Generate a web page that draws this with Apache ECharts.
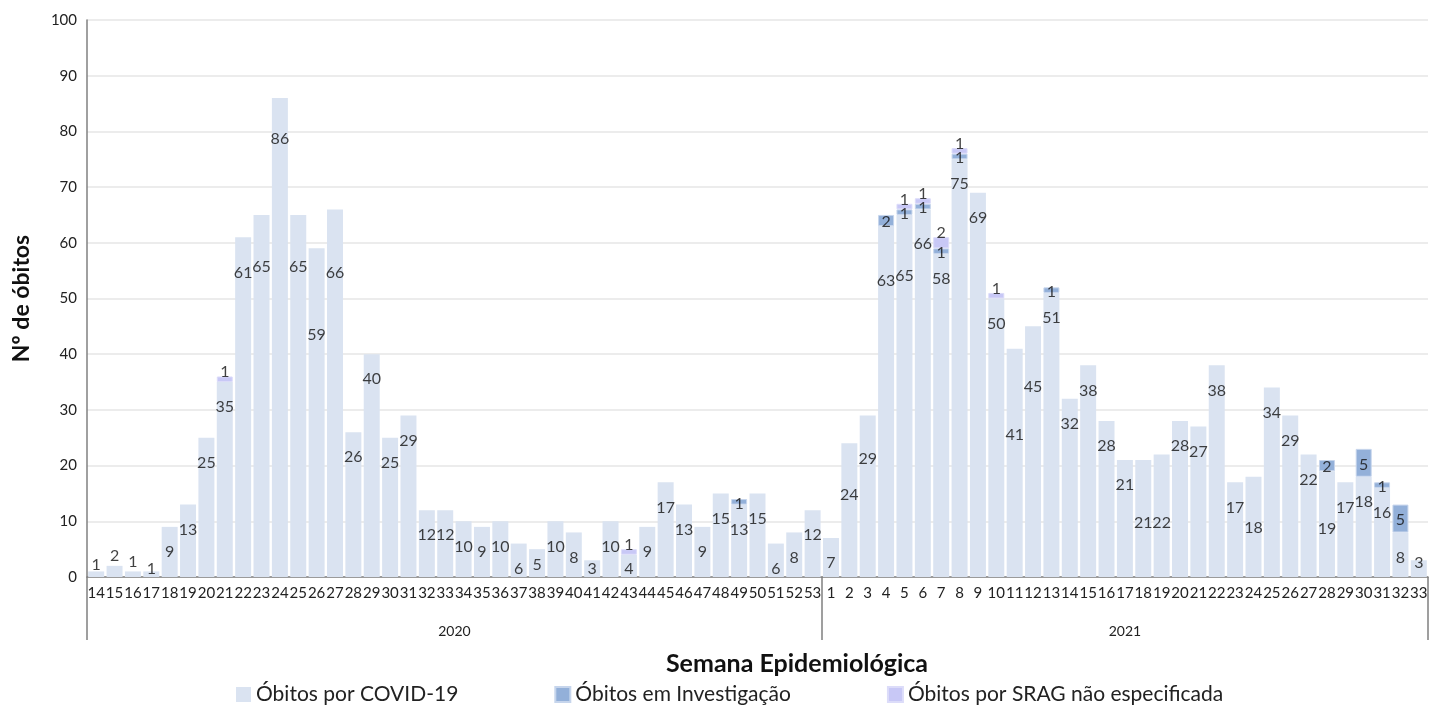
<!DOCTYPE html>
<html>
<head>
<meta charset="utf-8">
<title>Óbitos por semana epidemiológica</title>
<script src="https://cdn.jsdelivr.net/npm/echarts@6.0.0/dist/echarts.min.js"></script>
<style>
  html, body { margin: 0; padding: 0; background: #fff; }
  #main { width: 1437px; height: 709px; }
</style>
</head>
<body>
<div id="main"></div>
<script>
// categories
const years = ["2020", "2021"];
const weeks2020 = [14, 15, 16, 17, 18, 19, 20, 21, 22, 23, 24, 25, 26, 27, 28, 29, 30, 31, 32, 33,
  34, 35, 36, 37, 38, 39, 40, 41, 42, 43, 44, 45, 46, 47, 48, 49, 50, 51, 52, 53];
const weeks2021 = [1, 2, 3, 4, 5, 6, 7, 8, 9, 10, 11, 12, 13, 14, 15, 16, 17, 18, 19, 20,
  21, 22, 23, 24, 25, 26, 27, 28, 29, 30, 31, 32, 33];

// series values
const covid2020 = [1, 2, 1, 1, 9, 13, 25, 35, 61, 65, 86, 65, 59, 66, 26, 40, 25, 29, 12, 12,
  10, 9, 10, 6, 5, 10, 8, 3, 10, 4, 9, 17, 13, 9, 15, 13, 15, 6, 8, 12];
const covid2021 = [7, 24, 29, 63, 65, 66, 58, 75, 69, 50, 41, 45, 51, 32, 38, 28, 21, 21, 22, 28,
  27, 38, 17, 18, 34, 29, 22, 19, 17, 18, 16, 8, 3];
const inv2020 = [0, 0, 0, 0, 0, 0, 0, 0, 0, 0, 0, 0, 0, 0, 0, 0, 0, 0, 0, 0,
  0, 0, 0, 0, 0, 0, 0, 0, 0, 0, 0, 0, 0, 0, 0, 1, 0, 0, 0, 0];
const inv2021 = [0, 0, 0, 2, 1, 1, 1, 1, 0, 0, 0, 0, 1, 0, 0, 0, 0, 0, 0, 0,
  0, 0, 0, 0, 0, 0, 0, 2, 0, 5, 1, 5, 0];
const srag2020 = [0, 0, 0, 0, 0, 0, 0, 1, 0, 0, 0, 0, 0, 0, 0, 0, 0, 0, 0, 0,
  0, 0, 0, 0, 0, 0, 0, 0, 0, 1, 0, 0, 0, 0, 0, 0, 0, 0, 0, 0];
const srag2021 = [0, 0, 0, 0, 1, 1, 2, 1, 0, 1, 0, 0, 0, 0, 0, 0, 0, 0, 0, 0,
  0, 0, 0, 0, 0, 0, 0, 0, 0, 0, 0, 0, 0];

// label placement: how far under the bar top the COVID label sits (axis units),
// with the labels that were moved by hand in the original
const labelDrop = 4.5;
const labelDropFix2020 = { 14: -1.2, 15: -1.8, 16: -1.8, 22: 6.4, 23: 9.3, 24: 7.4, 25: 9.3, 26: 15.5, 27: 11.4, 38: 2.9 };
const labelDropFix2021 = { 2: 9.3, 3: 7.7, 4: 9.9, 5: 11, 6: 6.1, 11: 15.4, 12: 10.8, 18: 11.3, 19: 12.3, 24: 9.2, 28: 10.4, 33: 0.5 };

const font = "Lato";
const weeks = weeks2020.concat(weeks2021).map(String);
const covid = covid2020.concat(covid2021);
const inv = inv2020.concat(inv2021);
const srag = srag2020.concat(srag2021);
const dropFix = weeks2020.map((w) => labelDropFix2020[w]).concat(weeks2021.map((w) => labelDropFix2021[w]));

// year blocks on the week axis
const yearEdges = [0, weeks2020.length, weeks2020.length + weeks2021.length];
const yearMids = [(yearEdges[0] + yearEdges[1]) / 2, (yearEdges[1] + yearEdges[2]) / 2];

let labelPoints = [];
covid.forEach(function (v, i) {
  let d = dropFix[i] !== undefined ? dropFix[i] : labelDrop;
  labelPoints.push({ value: [i, Math.max(v - d, 1.4)], txt: v });
  if (inv[i]) labelPoints.push({ value: [i, v + inv[i] / 2 - 0.3], txt: inv[i] });
  if (srag[i]) labelPoints.push({ value: [i, v + inv[i] + srag[i] + 0.8], txt: srag[i] });
});

let option = {
  animation: false,
  textStyle: { fontFamily: font },
  grid: {
    left: 87,
    right: 9,
    top: 20,
    bottom: 132,
    containLabel: false,
    outerBoundsMode: "none",
  },
  title: {
    text: "Semana Epidemiológica",
    left: 792,
    top: 646,
    textAlign: "center",
    textStyle: { fontFamily: font, fontSize: 25, fontWeight: "bold", color: "#111" },
  },
  legend: {
    data: ["Óbitos por COVID-19", "Óbitos em Investigação", "Óbitos por SRAG não especificada"],
    left: 231,
    top: 679,
    icon: "rect",
    itemWidth: 15,
    itemHeight: 15,
    itemGap: 96,
    textStyle: { fontFamily: font, fontSize: 21, color: "#222" },
  },
  xAxis: [
    {
      type: "category",
      data: weeks,
      axisLine: { lineStyle: { color: "#808080", width: 1.5 } },
      axisTick: { show: false },
      axisLabel: { interval: 0, margin: 9, fontSize: 15, color: "#222", fontFamily: font },
    },
    {
      type: "value",
      min: 0,
      max: yearEdges[2],
      position: "bottom",
      axisLine: { show: false },
      splitLine: { show: false },
      axisTick: {
        show: true,
        customValues: yearEdges,
        length: 63,
        lineStyle: { color: "#808080", width: 1.5 },
      },
      axisLabel: {
        customValues: yearMids,
        formatter: (v) => years[yearMids.indexOf(v)],
        margin: 47,
        fontSize: 14,
        color: "#222",
        fontFamily: font,
      },
    },
  ],
  yAxis: {
    type: "value",
    min: 0,
    max: 100,
    interval: 10,
    name: "Nº de óbitos",
    nameLocation: "middle",
    nameGap: 54,
    nameTextStyle: { fontFamily: font, fontSize: 23, fontWeight: "bold", color: "#111" },
    axisLine: { show: true, lineStyle: { color: "#808080", width: 1.5 } },
    axisTick: { show: false },
    axisLabel: { margin: 10, fontSize: 15, color: "#222", fontFamily: font },
    splitLine: { lineStyle: { color: "#e6e6e6", width: 1.5 } },
  },
  series: [
    {
      name: "Óbitos por COVID-19",
      type: "bar",
      stack: "total",
      barCategoryGap: "13%",
      itemStyle: { color: "#dae3f1" },
      data: covid,
    },
    {
      name: "Óbitos em Investigação",
      type: "bar",
      stack: "total",
      itemStyle: { color: "#93b0d9", borderColor: "#c6d5ec", borderWidth: 1 },
      data: inv.map((v) => v || "-"),
    },
    {
      name: "Óbitos por SRAG não especificada",
      type: "bar",
      stack: "total",
      itemStyle: { color: "#c8c8f6", borderColor: "#dcdcf9", borderWidth: 1 },
      data: srag.map((v) => v || "-"),
    },
    {
      // value labels, placed through the axes
      name: "rotulos",
      type: "scatter",
      silent: true,
      z: 5,
      symbolSize: 1,
      itemStyle: { color: "rgba(0,0,0,0)" },
      label: {
        show: true,
        position: "inside",
        formatter: (p) => String(p.data.txt),
        fontFamily: font,
        fontSize: 16,
        color: "#111",
      },
      data: labelPoints,
    },
  ],
};

let chartDom = document.getElementById("main");
let myChart = echarts.init(chartDom);
option && myChart.setOption(option);
</script>
</body>
</html>
